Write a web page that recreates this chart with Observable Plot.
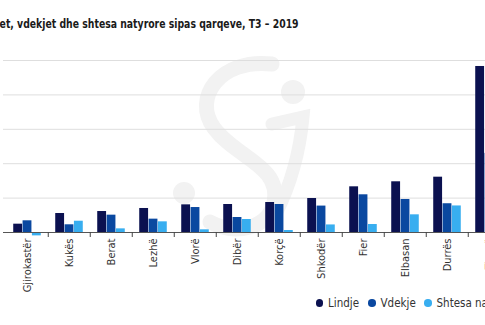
<!DOCTYPE html>
<html><head><meta charset="utf-8">
<script src="https://cdn.jsdelivr.net/npm/d3@7"></script>
<script src="https://cdn.jsdelivr.net/npm/@observablehq/plot@0.6"></script>
<style>
html,body{margin:0;padding:0}
body{width:485px;height:325px;overflow:hidden;background:#fff;position:relative;font-family:"Liberation Sans Narrow","DejaVu Sans Condensed",Arial,sans-serif}
#wm{position:absolute;top:0;left:0}
#title{position:absolute;top:19px;left:0;white-space:nowrap;font-weight:bold;font-size:11.5px;line-height:1;color:#1a1a1a;transform-origin:0 0}
#chart{position:absolute;top:40px;left:0}
#chart svg{max-width:none}
#legend{position:absolute;top:296px;left:0;width:485px;height:16px;font-size:11.5px;color:#333;white-space:nowrap;line-height:14px}
#legend .item{position:absolute;top:0;display:flex;align-items:center;height:14px}
#legend .dot{width:7.5px;height:7.5px;border-radius:50%;margin-right:5px;flex:none}
#legend .txt{display:inline-block}
</style>
</head><body>
<svg id="wm" width="485" height="325">
  <g fill="none" stroke="#f2f2f2" stroke-linecap="round">
    <path d="M272 64 C220 58 192 98 214 128 C236 158 282 166 274 203 C268 228 236 236 210 222" stroke-width="15"/>
    <path d="M272 124 L303 117 C300 150 291 184 276 214" stroke-width="13"/>
  </g>
  <circle cx="293" cy="92" r="12" fill="#f2f2f2"/>
  <circle cx="184" cy="193" r="11" fill="#f2f2f2"/>
</svg>
<div id="title"><span id="cut">Lindj</span>et, vdekjet dhe shtesa natyrore sipas qarqeve, T3 – 2019</div>
<div id="chart"></div>
<div id="legend"></div>
<script>
const qarqet = ["Gjirokastër","Kukës","Berat","Lezhë","Vlorë","Dibër","Korçë","Shkodër","Fier","Elbasan","Durrës","Tiranë"];
const lindje = [121,276,305,349,402,407,436,494,664,737,804,2413];
const vdekje = [170,112,252,194,363,218,407,384,548,480,418,1150];
const shtesa = [-49,164,53,155,39,189,29,110,116,257,386,1263];
const seriet = ["Lindje","Vdekje","Shtesa natyrore"];
const ngjyrat = ["#0b1150","#0a48a0","#38aef0"];
const yTicks = [500,1000,1500,2000,2500];

const vlerat = [lindje, vdekje, shtesa];
const step = 42.5, barW = 9.35;
const inset = (step - barW) / 2;

const marks = [
  Plot.ruleY(yTicks, {stroke: "#dedede", strokeWidth: 1, insetLeft: 3})
];
seriet.forEach((s, i) => {
  const rows = qarqet.map((q, j) => ({qark: q, seri: s, vlere: vlerat[i][j]}));
  marks.push(Plot.barY(rows, {x: "qark", y: "vlere", fill: ngjyrat[i], insetLeft: inset, insetRight: inset, dx: (i - 1) * barW}));
});
marks.push(Plot.ruleY([0], {stroke: "#555", strokeWidth: 1, insetLeft: 3}));
marks.push(Plot.axisX(qarqet.slice(1), {tickSize: 5, tickFormat: () => "", dx: -step / 2, stroke: "#444", label: null}));
marks.push(Plot.axisX({tickSize: 0, tickRotate: -90, tickPadding: 6, fontSize: 11, fill: "#333", label: null}));

const chart = Plot.plot({
  width: 520, height: 252,
  marginLeft: 0, marginRight: 0, marginTop: 20, marginBottom: 60,
  style: {fontFamily: '"Liberation Sans Narrow","DejaVu Sans Condensed",Arial,sans-serif', background: "transparent", maxWidth: "none"},
  x: {domain: qarqet, range: [3.2, 3.2 + step * qarqet.length], padding: 0, axis: null, label: null},
  y: {domain: [0, 2500], axis: null},
  marks
});
document.getElementById("chart").appendChild(chart);

const leg = document.getElementById("legend");
const legLeft = [315.5, 368, 424];
seriet.forEach((s, i) => {
  const it = document.createElement("div"); it.className = "item"; it.style.left = legLeft[i] + "px";
  const d = document.createElement("span"); d.className = "dot"; d.style.background = ngjyrat[i];
  const t = document.createElement("span"); t.className = "txt"; t.textContent = s;
  it.appendChild(d); it.appendChild(t); leg.appendChild(it);
});
const title = document.getElementById("title");
const cutW = document.getElementById("cut").getBoundingClientRect().width;
const totW = title.getBoundingClientRect().width;
const sc = 299 / (totW - cutW);
title.style.transform = `scaleX(${sc})`;
title.style.left = (-cutW * sc) + "px";
</script>
</body></html>
